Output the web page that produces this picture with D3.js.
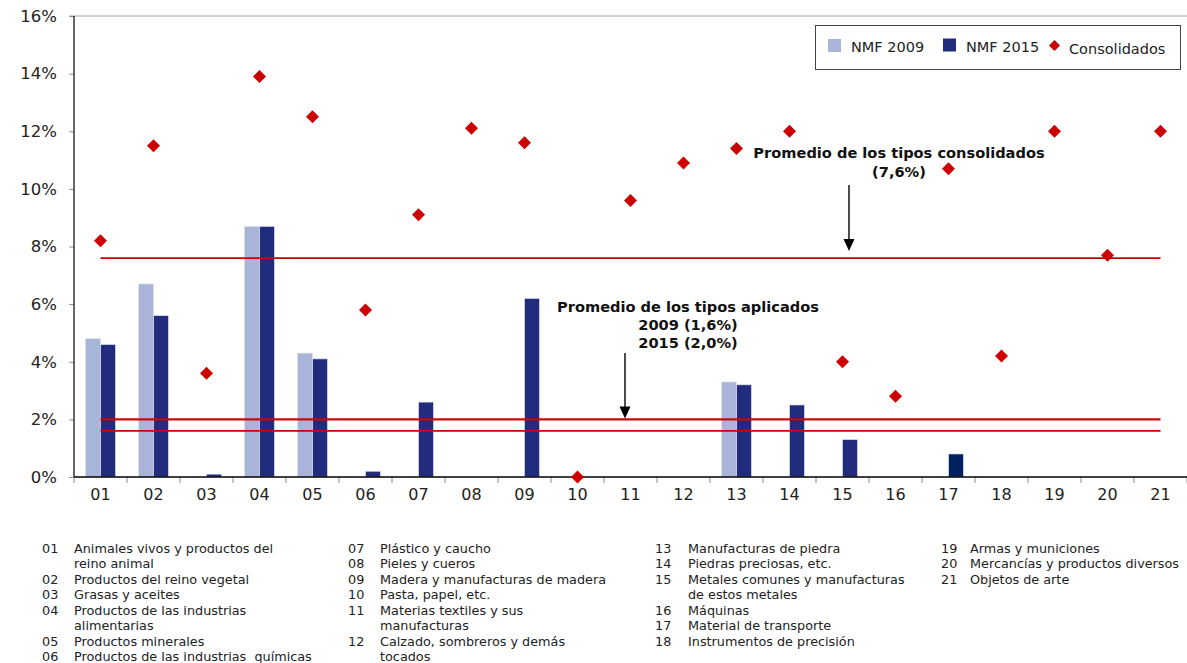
<!DOCTYPE html>
<html>
<head>
<meta charset="utf-8">
<script src="https://cdn.jsdelivr.net/npm/d3@7"></script>
<style>
  html, body { margin: 0; padding: 0; background: #ffffff; }
  svg { display: block; }
</style>
</head>
<body>
<svg id="chart" width="1187" height="663"></svg>
<script>
// ---------- data ----------
const categories = ["01","02","03","04","05","06","07","08","09","10","11","12","13","14","15","16","17","18","19","20","21"];
const nmf2009 = [4.8, 6.7, 0, 8.7, 4.3, 0, 0, 0, 0, 0, 0, 0, 3.3, 0, 0, 0, 0, 0, 0, 0, 0];
const nmf2015 = [4.6, 5.6, 0.1, 8.7, 4.1, 0.2, 2.6, 0, 6.2, 0, 0, 0, 3.2, 2.5, 1.3, 0, 0.8, 0, 0, 0, 0];
const consolidados = [8.2, 11.5, 3.6, 13.9, 12.5, 5.8, 9.1, 12.1, 11.6, 0, 9.6, 10.9, 11.4, 12.0, 4.0, 2.8, 10.7, 4.2, 12.0, 7.7, 12.0];
const averageLines = [7.6, 2.0, 1.6];
const yTicks = [0, 2, 4, 6, 8, 10, 12, 14, 16];
const seriesNames = ["NMF 2009", "NMF 2015", "Consolidados"];
const annotConsolidated = ["Promedio de los tipos consolidados", "(7,6%)"];
const annotApplied = ["Promedio de los tipos aplicados", "2009 (1,6%)", "2015 (2,0%)"];
const descColumns = [
  [["01", ["Animales vivos y productos del", "reino animal"]],
   ["02", ["Productos del reino vegetal"]],
   ["03", ["Grasas y aceites"]],
   ["04", ["Productos de las industrias", "alimentarias"]],
   ["05", ["Productos minerales"]],
   ["06", ["Productos de las industrias  químicas"]]],
  [["07", ["Plástico y caucho"]],
   ["08", ["Pieles y cueros"]],
   ["09", ["Madera y manufacturas de madera"]],
   ["10", ["Pasta, papel, etc."]],
   ["11", ["Materias textiles y sus", "manufacturas"]],
   ["12", ["Calzado, sombreros y demás", "tocados"]]],
  [["13", ["Manufacturas de piedra"]],
   ["14", ["Piedras preciosas, etc."]],
   ["15", ["Metales comunes y manufacturas", "de estos metales"]],
   ["16", ["Máquinas"]],
   ["17", ["Material de transporte"]],
   ["18", ["Instrumentos de precisión"]]],
  [["19", ["Armas y municiones"]],
   ["20", ["Mercancías y productos diversos"]],
   ["21", ["Objetos de arte"]]]
];

// ---------- layout ----------
const svg = d3.select("#chart");
const L = 74, R = 1187, T = 16, B = 477;
const FONT = "'DejaVu Sans', Verdana, sans-serif";
const C2009 = "#a9b4d9", C2015 = "#212d7c", C2015b = "#002060", RED = "#cc0000";

const x = d3.scaleBand().domain(categories).range([L, R]).padding(0);
const y = d3.scaleLinear().domain([0, 16]).range([B, T]);
const sub = d3.scaleBand().domain(["2009", "2015"]).range([0, 30]).padding(0);

// top border line
svg.append("line").attr("x1", L - 5).attr("x2", R).attr("y1", y(16)).attr("y2", y(16))
  .attr("stroke", "#a6a6a6").attr("stroke-width", 1);

// y axis
const yAxis = svg.append("g").attr("transform", `translate(${L},0)`)
  .call(d3.axisLeft(y).tickValues(yTicks).tickSize(5).tickPadding(12).tickFormat(d => d + "%"));
yAxis.select(".domain").remove();
yAxis.selectAll(".tick line").attr("stroke", "#8c8c8c");
yAxis.selectAll(".tick text").attr("font-family", FONT).attr("font-size", 16.5).attr("fill", "#222");

// x axis
const xAxis = svg.append("g").attr("transform", `translate(0,${B})`)
  .call(d3.axisBottom(x).tickSize(0).tickPadding(12));
xAxis.select(".domain").remove();
xAxis.selectAll(".tick text").attr("font-family", FONT).attr("font-size", 16).attr("fill", "#222")
  .attr("dy", "0.71em");
// category boundary ticks
const bounds = categories.map(c => x(c)).concat([R]);
svg.append("g").selectAll("line").data(bounds).join("line")
  .attr("x1", d => d).attr("x2", d => d).attr("y1", B).attr("y2", B + 6)
  .attr("stroke", "#8c8c8c").attr("stroke-width", 1);

// bars
const barData = [];
categories.forEach((c, i) => {
  if (nmf2009[i] > 0) barData.push({ c, k: "2009", v: nmf2009[i] });
  if (nmf2015[i] > 0) barData.push({ c, k: "2015", v: nmf2015[i] });
});
svg.append("g").selectAll("rect").data(barData).join("rect")
  .attr("x", d => x(d.c) + x.bandwidth() / 2 - 15 + sub(d.k))
  .attr("y", d => y(d.v))
  .attr("width", sub.bandwidth())
  .attr("height", d => y(0) - y(d.v))
  .attr("fill", d => d.k === "2009" ? C2009 : (d.c === "17" ? C2015b : C2015))
  .attr("stroke", "#dfe3f1").attr("stroke-width", 0.7);

// axis lines
svg.append("line").attr("x1", L).attr("x2", L).attr("y1", y(16)).attr("y2", B)
  .attr("stroke", "#000").attr("stroke-width", 1.2);
svg.append("line").attr("x1", L).attr("x2", R).attr("y1", B).attr("y2", B)
  .attr("stroke", "#000").attr("stroke-width", 1.4);

// average lines
const lineX1 = x(categories[0]) + x.bandwidth() / 2;
const lineX2 = x(categories[categories.length - 1]) + x.bandwidth() / 2;
svg.append("g").selectAll("line").data(averageLines).join("line")
  .attr("x1", lineX1).attr("x2", lineX2)
  .attr("y1", d => y(d)).attr("y2", d => y(d))
  .attr("stroke", RED).attr("stroke-width", (d, i) => i === 1 ? 2.4 : 1.8);

// diamonds
const diamond = (cx, cy, r) => `M${cx},${cy - r}L${cx + r},${cy}L${cx},${cy + r}L${cx - r},${cy}Z`;
svg.append("g").selectAll("path").data(categories.map((c, i) => ({ c, v: consolidados[i] }))).join("path")
  .attr("d", d => diamond(x(d.c) + x.bandwidth() / 2, y(d.v), 6.5))
  .attr("fill", RED);

// annotations
function arrow(x0, y0, y1) {
  svg.append("line").attr("x1", x0).attr("x2", x0).attr("y1", y0).attr("y2", y1 - 10)
    .attr("stroke", "#000").attr("stroke-width", 1.4);
  svg.append("path").attr("d", `M${x0 - 5.5},${y1 - 12}L${x0 + 5.5},${y1 - 12}L${x0},${y1}Z`).attr("fill", "#000");
}
svg.append("g").selectAll("text").data(annotConsolidated).join("text")
  .attr("x", 899).attr("y", (d, i) => 158 + i * 18.5)
  .attr("text-anchor", "middle").attr("font-family", FONT).attr("font-weight", "bold")
  .attr("font-size", 14.6).attr("fill", "#111").text(d => d);
arrow(849, 185, y(7.6) - 7);

svg.append("g").selectAll("text").data(annotApplied).join("text")
  .attr("x", 688).attr("y", (d, i) => 312 + i * 18)
  .attr("text-anchor", "middle").attr("font-family", FONT).attr("font-weight", "bold")
  .attr("font-size", 14.6).attr("fill", "#111").text(d => d);
arrow(625, 353, y(2.0) - 1);

// legend
const lg = svg.append("g");
lg.append("rect").attr("x", 815.5).attr("y", 25.5).attr("width", 365).attr("height", 44)
  .attr("fill", "#fff").attr("stroke", "#444").attr("stroke-width", 1);
lg.append("rect").attr("x", 828).attr("y", 39).attr("width", 13).attr("height", 13).attr("fill", C2009);
lg.append("rect").attr("x", 943).attr("y", 38.5).attr("width", 13).attr("height", 13).attr("fill", C2015);
lg.append("path").attr("d", diamond(1054.5, 45.5, 5.5)).attr("fill", RED);
const legendX = [851, 966, 1069];
const legendY = [52, 51.5, 53.5];
lg.selectAll("text").data(seriesNames).join("text")
  .attr("x", (d, i) => legendX[i]).attr("y", (d, i) => legendY[i])
  .attr("font-family", FONT).attr("font-size", 14.5).attr("fill", "#222").text(d => d);

// bottom descriptions
const colNumX = [42, 348, 655, 941];
const colTxtX = [74, 380, 688, 970];
const row0 = 552.5, rowH = 15.5;
descColumns.forEach((col, ci) => {
  let r = 0;
  col.forEach(([num, lines]) => {
    svg.append("text").attr("x", colNumX[ci]).attr("y", row0 + r * rowH)
      .attr("font-family", FONT).attr("font-size", 12.8).attr("fill", "#222").text(num);
    lines.forEach(line => {
      svg.append("text").attr("x", colTxtX[ci]).attr("y", row0 + r * rowH)
        .attr("font-family", FONT).attr("font-size", 12.8).attr("fill", "#222")
        .attr("xml:space", "preserve").style("white-space", "pre").text(line);
      r++;
    });
  });
});
</script>
</body>
</html>
